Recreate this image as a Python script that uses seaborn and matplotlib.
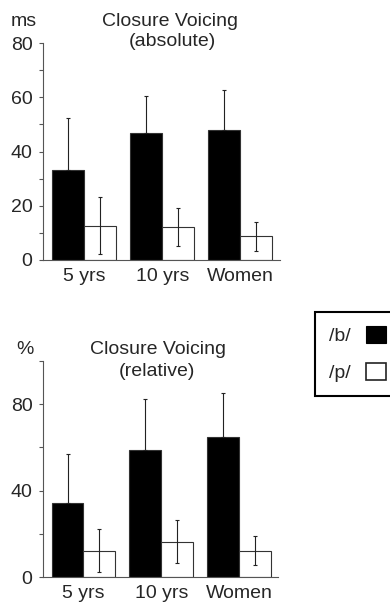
import matplotlib
matplotlib.use("Agg")
import matplotlib.pyplot as plt
from matplotlib.patches import Patch
from matplotlib.ticker import MultipleLocator
import seaborn as sns
import pandas as pd
import numpy as np

groups = ["5 yrs", "10 yrs", "Women"]
phonemes = ["/b/", "/p/"]

abs_b = [33.2, 46.7, 48.0]
abs_b_sd = [19.2, 13.9, 14.7]
abs_p = [12.7, 12.3, 8.7]
abs_p_sd = [10.4, 7.0, 5.3]

rel_b = [34.4, 58.8, 65.0]
rel_b_sd = [22.6, 23.6, 20.4]
rel_p = [12.2, 16.4, 12.2]
rel_p_sd = [9.9, 9.9, 6.8]

sns.set_style("ticks")
plt.rcParams["font.family"] = ["Liberation Sans", "DejaVu Sans"]
FS = 14

W, H = 390, 603
fig = plt.figure(figsize=(W / 100, H / 100), dpi=100)


def make_df(b, p):
    rows = []
    for g, vb, vp in zip(groups, b, p):
        rows.append({"group": g, "phoneme": phonemes[0], "value": vb})
        rows.append({"group": g, "phoneme": phonemes[1], "value": vp})
    return pd.DataFrame(rows)


def panel(rect, b, bsd, p, psd, ymax, major, minor, xlim):
    ax = fig.add_axes(rect)
    df = make_df(b, p)
    sns.barplot(data=df, x="group", y="value", hue="phoneme", order=groups,
                hue_order=phonemes, palette=["black", "white"], edgecolor="#333333",
                linewidth=0.8, width=0.82, gap=0, errorbar=None, legend=False,
                saturation=1, ax=ax)
    for i, (cont, sd) in enumerate(zip(ax.containers, [bsd, psd])):
        xs = [r.get_x() + r.get_width() / 2 for r in cont]
        ys = [r.get_height() for r in cont]
        if i == 0:
            yerr = [np.zeros(len(sd)), np.asarray(sd)]
        else:
            yerr = sd
        ax.errorbar(xs, ys, yerr=yerr, fmt="none", ecolor="#222222",
                    elinewidth=0.8, capsize=1.5, capthick=0.8, zorder=3)
    ax.set_ylim(0, ymax)
    ax.set_xlim(*xlim)
    ax.yaxis.set_major_locator(MultipleLocator(major))
    ax.yaxis.set_minor_locator(MultipleLocator(minor))
    ax.set_xlabel("")
    ax.set_ylabel("")
    for s in ["top", "right"]:
        ax.spines[s].set_visible(False)
    for s in ["left", "bottom"]:
        ax.spines[s].set_color("#555555")
        ax.spines[s].set_linewidth(0.8)
    ax.tick_params(axis="y", which="both", direction="out", length=3,
                   width=0.8, color="#555555", labelsize=FS, pad=4.5)
    ax.tick_params(axis="x", length=0, labelsize=FS, pad=6)
    ax.set_facecolor("white")
    return ax


ax1 = panel([43 / W, 1 - 260 / H, 237 / W, 217 / H], abs_b, abs_b_sd, abs_p, abs_p_sd,
            80, 20, 10, (-0.53, 2.51))
ax2 = panel([43 / W, 1 - 577 / H, 235 / W, 216 / H], rel_b, rel_b_sd, rel_p, rel_p_sd,
            100, 40, 20, (-0.52, 2.5))

fig.text(24 / W, 1 - 21 / H, "ms", ha="center", va="center", fontsize=FS)
fig.text(170 / W, 1 - 21 / H, "Closure Voicing", ha="center", va="center", fontsize=FS)
fig.text(172 / W, 1 - 42 / H, "(absolute)", ha="center", va="center", fontsize=FS)

fig.text(25 / W, 1 - 350 / H, "%", ha="center", va="center", fontsize=FS)
fig.text(158 / W, 1 - 350 / H, "Closure Voicing", ha="center", va="center", fontsize=FS)
fig.text(157 / W, 1 - 372 / H, "(relative)", ha="center", va="center", fontsize=FS)

handles = [Patch(facecolor="black", edgecolor="black", linewidth=0.8),
           Patch(facecolor="white", edgecolor="#222222", linewidth=1.2)]
leg = fig.legend(handles=handles, labels=phonemes, loc="upper left",
                 bbox_to_anchor=(315 / W, 1 - 312 / H), borderaxespad=0,
                 markerfirst=False,
                 frameon=True, fancybox=False, edgecolor="black", framealpha=1,
                 handlelength=1.0, handleheight=0.95, handletextpad=0.8,
                 labelspacing=0.92, borderpad=0.72, fontsize=FS)
leg.get_frame().set_linewidth(1.5)

fig.savefig("out.png", dpi=100, facecolor="white")
